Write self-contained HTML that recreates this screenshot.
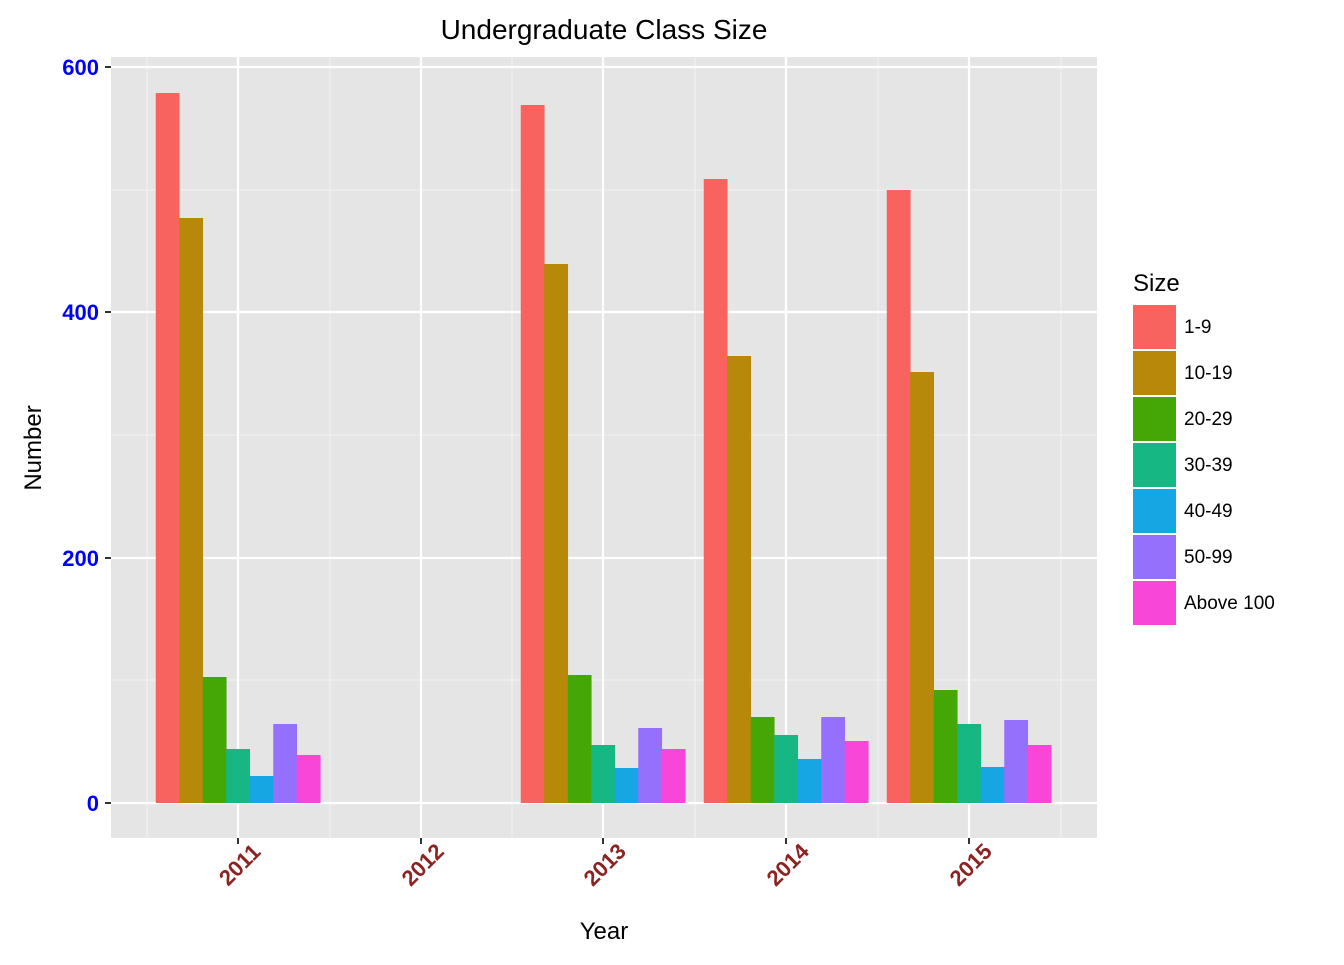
<!DOCTYPE html><html><head><style>body{margin:0;background:#fff}</style></head><body>
<svg width="1344" height="960" xmlns="http://www.w3.org/2000/svg" font-family="Liberation Sans, sans-serif">
<rect x="111" y="57" width="986" height="781" fill="#e5e5e5"/>
<g stroke="#f2f2f2" stroke-width="1.1">
<line x1="111" x2="1097" y1="680" y2="680"/><line x1="111" x2="1097" y1="435" y2="435"/><line x1="111" x2="1097" y1="190" y2="190"/>
<line y1="57" y2="838" x1="147" x2="147"/><line y1="57" y2="838" x1="330" x2="330"/><line y1="57" y2="838" x1="512" x2="512"/><line y1="57" y2="838" x1="695" x2="695"/><line y1="57" y2="838" x1="878" x2="878"/><line y1="57" y2="838" x1="1061" x2="1061"/>
</g>
<g stroke="#fff" stroke-width="2.2">
<line x1="111" x2="1097" y1="803" y2="803"/><line x1="111" x2="1097" y1="558" y2="558"/><line x1="111" x2="1097" y1="312" y2="312"/><line x1="111" x2="1097" y1="67" y2="67"/>
<line y1="57" y2="838" x1="238" x2="238"/><line y1="57" y2="838" x1="421" x2="421"/><line y1="57" y2="838" x1="603" x2="603"/><line y1="57" y2="838" x1="786" x2="786"/><line y1="57" y2="838" x1="969" x2="969"/>
</g>
<g id="bars"></g>
<g stroke="#333" stroke-width="2">
<line x1="105" x2="111" y1="803" y2="803"/><line x1="105" x2="111" y1="558" y2="558"/><line x1="105" x2="111" y1="312" y2="312"/><line x1="105" x2="111" y1="67" y2="67"/>
<line y1="838" y2="844" x1="238" x2="238"/><line y1="838" y2="844" x1="421" x2="421"/><line y1="838" y2="844" x1="603" x2="603"/><line y1="838" y2="844" x1="786" x2="786"/><line y1="838" y2="844" x1="969" x2="969"/>
</g>
<g fill="#0000ff" font-weight="bold" font-size="22" text-anchor="end">
<text x="99" y="811">0</text><text x="99" y="566">200</text><text x="99" y="320">400</text><text x="99" y="75">600</text>
</g>
<g fill="#8b2323" font-weight="bold" font-size="22" text-anchor="middle">
<text transform="translate(245,870) rotate(-45)">2011</text>
<text transform="translate(428,870) rotate(-45)">2012</text>
<text transform="translate(610,870) rotate(-45)">2013</text>
<text transform="translate(793,870) rotate(-45)">2014</text>
<text transform="translate(976,870) rotate(-45)">2015</text>
</g>
<text x="604" y="39" font-size="28" text-anchor="middle">Undergraduate Class Size</text>
<text x="604" y="939" font-size="24" text-anchor="middle">Year</text>
<text transform="translate(41,448) rotate(-90)" font-size="24" text-anchor="middle">Number</text>
<text x="1133" y="291" font-size="24">Size</text>
<g id="leg" font-size="19"></g>
</svg>
<script>
var c=["#f8635f","#b8880a","#44a705","#17b784","#17a6e4","#9470fc","#f846d8"];
var d={238:[93,218,677,749,776,724,755],603:[105,264,675,745,768,728,749],786:[179,356,717,735,759,717,741],969:[190,372,690,724,767,720,745]};
var s="",w=164.5/7;
for(var k in d){var x0=+k-82.25;d[k].forEach(function(t,i){s+='<rect x="'+(x0+i*w)+'" y="'+t+'" width="'+(w+0.3)+'" height="'+(803-t)+'" fill="'+c[i]+'"/>';});}
document.getElementById("bars").innerHTML=s;
var L=["1-9","10-19","20-29","30-39","40-49","50-99","Above 100"],l="";
L.forEach(function(n,i){var y=304+i*46;l+='<rect x="1133" y="'+(y+1)+'" width="43" height="44" fill="'+c[i]+'"/><text x="1184" y="'+(y+29)+'">'+n+'</text>';});
document.getElementById("leg").innerHTML=l;
</script>
</body></html>
